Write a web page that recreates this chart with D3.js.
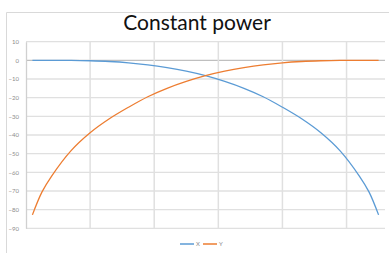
<!DOCTYPE html>
<html>
<head>
<meta charset="utf-8">
<script src="https://cdnjs.cloudflare.com/ajax/libs/d3/7.8.5/d3.min.js"></script>
<style>
  html, body { margin: 0; padding: 0; background: #fff; }
  svg { display: block; }
</style>
</head>
<body>
<div id="chart"></div>
<script>
// data
const positions = [1, 2.5, 4, 7, 10, 13, 16, 19, 22, 25, 28, 31, 34, 37, 40, 43, 46, 49, 52, 53.5, 55];
const seriesX = [0, 0, 0, 0, -0.2, -0.6, -1.3, -2.4, -3.9, -5.8, -8.2, -11.3, -15.0, -19.5, -25.1, -31.3, -38.8, -48.5, -62.0, -70.5, -82.8];
const seriesY = [-82.8, -70.5, -62.0, -48.5, -38.8, -31.3, -25.1, -19.5, -15.0, -11.3, -8.2, -5.8, -3.9, -2.4, -1.3, -0.6, -0.2, 0, 0, 0, 0];
const yTicks = [10, 0, -10, -20, -30, -40, -50, -60, -70, -80, -90];
const xGrid = [10, 20, 30, 40, 50];
const seriesNames = ['X', 'Y'];

const WIDTH = 389;
const HEIGHT = 253;
const MARGIN_LEFT = 26;
const MARGIN_RIGHT = 4;
const MARGIN_TOP = 41.7;
const MARGIN_BOTTOM = 24.7;
const COLORS = ['#5b9bd5', '#ed7d31'];

const $svg = d3.select('#chart').append('svg')
  .attr('width', WIDTH)
  .attr('height', HEIGHT);

// chart border
$svg.append('path')
  .attr('d', `M6.5,${HEIGHT + 2} V12.5 H${WIDTH + 2}`)
  .attr('fill', 'none')
  .attr('stroke', '#d9d9d9')
  .attr('stroke-width', 1);

// title
$svg.append('text')
  .attr('x', 197)
  .attr('y', 30)
  .attr('text-anchor', 'middle')
  .attr('font-family', 'Lato, "Open Sans", sans-serif')
  .attr('font-size', 21)
  .attr('fill', '#111')
  .text('Constant power');

const scaleX = d3.scaleLinear()
  .domain([0, 56])
  .range([MARGIN_LEFT, WIDTH - MARGIN_RIGHT]);

const scaleY = d3.scaleLinear()
  .domain([-90, 10])
  .range([HEIGHT - MARGIN_BOTTOM, MARGIN_TOP]);

// grid
const $grid = $svg.append('g').attr('class', 'g-grid');
$grid.selectAll('.hgrid')
  .data(yTicks)
  .join('line')
  .attr('class', 'hgrid')
  .attr('x1', MARGIN_LEFT)
  .attr('x2', WIDTH - MARGIN_RIGHT)
  .attr('y1', (d) => scaleY(d))
  .attr('y2', (d) => scaleY(d))
  .attr('stroke', (d) => (d === 0 ? '#bfbfbf' : '#e0e0e0'))
  .attr('stroke-width', (d) => (d === 0 ? 1.2 : 1.3));

$grid.selectAll('.vgrid')
  .data(xGrid)
  .join('line')
  .attr('class', 'vgrid')
  .attr('x1', (d) => scaleX(d))
  .attr('x2', (d) => scaleX(d))
  .attr('y1', MARGIN_TOP)
  .attr('y2', HEIGHT - MARGIN_BOTTOM)
  .attr('stroke', '#e0e0e0')
  .attr('stroke-width', 1.5);

// left axis
const $axis = $svg.append('g')
  .attr('transform', `translate(${MARGIN_LEFT},0)`)
  .call(d3.axisLeft(scaleY).tickValues(yTicks).tickSize(0).tickPadding(7));
$axis.select('.domain').attr('stroke', '#d0d0d0').attr('stroke-width', 1.3);
$axis.selectAll('text')
  .attr('font-family', 'Lato, "Open Sans", sans-serif')
  .attr('font-size', 6)
  .attr('fill', '#8c8c8c');

// lines
const line = d3.line()
  .x((d) => scaleX(d[0]))
  .y((d) => scaleY(d[1]))
  .curve(d3.curveCatmullRom.alpha(0.5));

const series = [seriesX, seriesY].map((vals) => vals.map((v, i) => [positions[i], v]));

$svg.append('g').selectAll('path')
  .data(series)
  .join('path')
  .attr('d', line)
  .attr('fill', 'none')
  .attr('stroke', (d, i) => COLORS[i])
  .attr('stroke-width', 1.3);

// legend
const $legend = $svg.append('g').attr('transform', 'translate(180,244)');
const legendItems = $legend.selectAll('g')
  .data(seriesNames)
  .join('g')
  .attr('transform', (d, i) => `translate(${i * 23},0)`);
legendItems.append('line')
  .attr('x1', 0).attr('x2', 14)
  .attr('y1', 0).attr('y2', 0)
  .attr('stroke', (d, i) => COLORS[i])
  .attr('stroke-width', 1.5);
legendItems.append('text')
  .attr('x', 16)
  .attr('y', 2)
  .attr('font-family', 'Lato, "Open Sans", sans-serif')
  .attr('font-size', 6)
  .attr('fill', '#8c8c8c')
  .text((d) => d);
</script>
</body>
</html>
